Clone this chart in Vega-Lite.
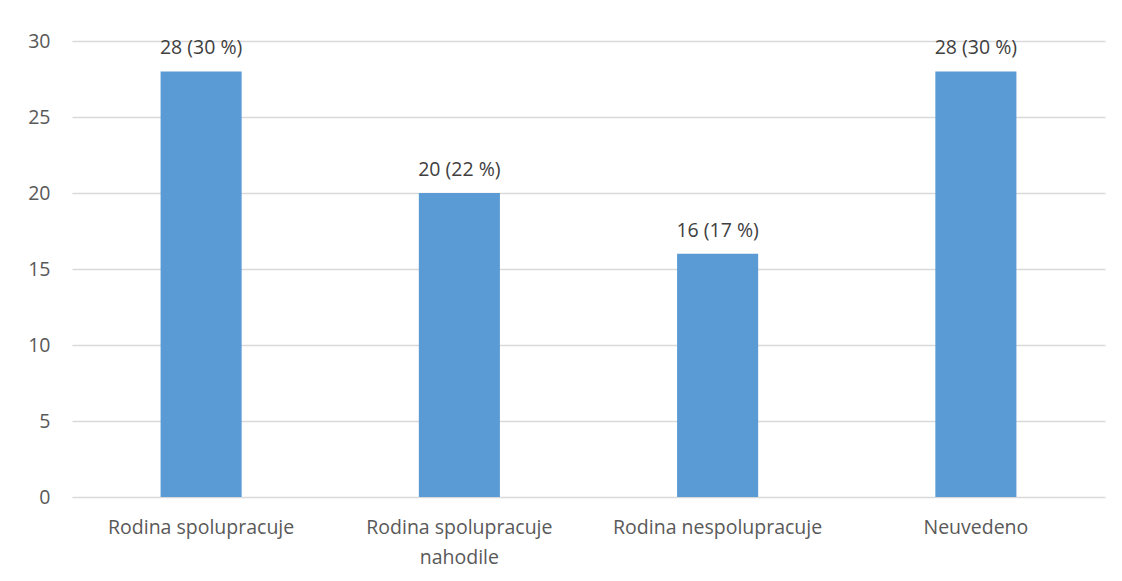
{
  "$schema": "https://vega.github.io/schema/vega-lite/v6.json",
  "width": 1033,
  "height": 456,
  "autosize": {"type": "none"},
  "padding": {"left": 72, "top": 41, "right": 17, "bottom": 84},
  "background": "white",
  "config": {
    "view": {"stroke": null},
    "font": "Open Sans",
    "axis": {"labelColor": "#595959", "labelFont": "Open Sans", "labelFontSize": 19.5, "labelLimit": 400}
  },
  "data": {
    "values": [
      {"kategorie": "Rodina spolupracuje", "pocet": 28, "popisek": "28 (30 %)"},
      {"kategorie": "Rodina spolupracuje nahodile", "pocet": 20, "popisek": "20 (22 %)"},
      {"kategorie": "Rodina nespolupracuje", "pocet": 16, "popisek": "16 (17 %)"},
      {"kategorie": "Neuvedeno", "pocet": 28, "popisek": "28 (30 %)"}
    ]
  },
  "encoding": {
    "x": {
      "field": "kategorie",
      "type": "nominal",
      "sort": null,
      "scale": {"paddingInner": 0.686, "paddingOuter": 0.343},
      "axis": {
        "title": null,
        "labelAngle": 0,
        "domain": false,
        "ticks": false,
        "labelPadding": 21,
        "labelLineHeight": 30,
        "labelExpr": "datum.label == 'Rodina spolupracuje nahodile' ? ['Rodina spolupracuje', 'nahodile'] : datum.label"
      }
    },
    "y": {
      "field": "pocet",
      "type": "quantitative",
      "scale": {"domain": [0, 30], "nice": false},
      "axis": {
        "title": null,
        "values": [0, 5, 10, 15, 20, 25, 30],
        "domain": false,
        "ticks": false,
        "labelPadding": 22,
        "gridColor": "#D9D9D9",
        "gridWidth": 1.3
      }
    }
  },
  "layer": [
    {"mark": {"type": "bar", "color": "#5B9BD5"}},
    {
      "mark": {"type": "text", "dy": -23, "fontSize": 19.5, "color": "#404040", "font": "Open Sans"},
      "encoding": {"text": {"field": "popisek"}}
    }
  ]
}
